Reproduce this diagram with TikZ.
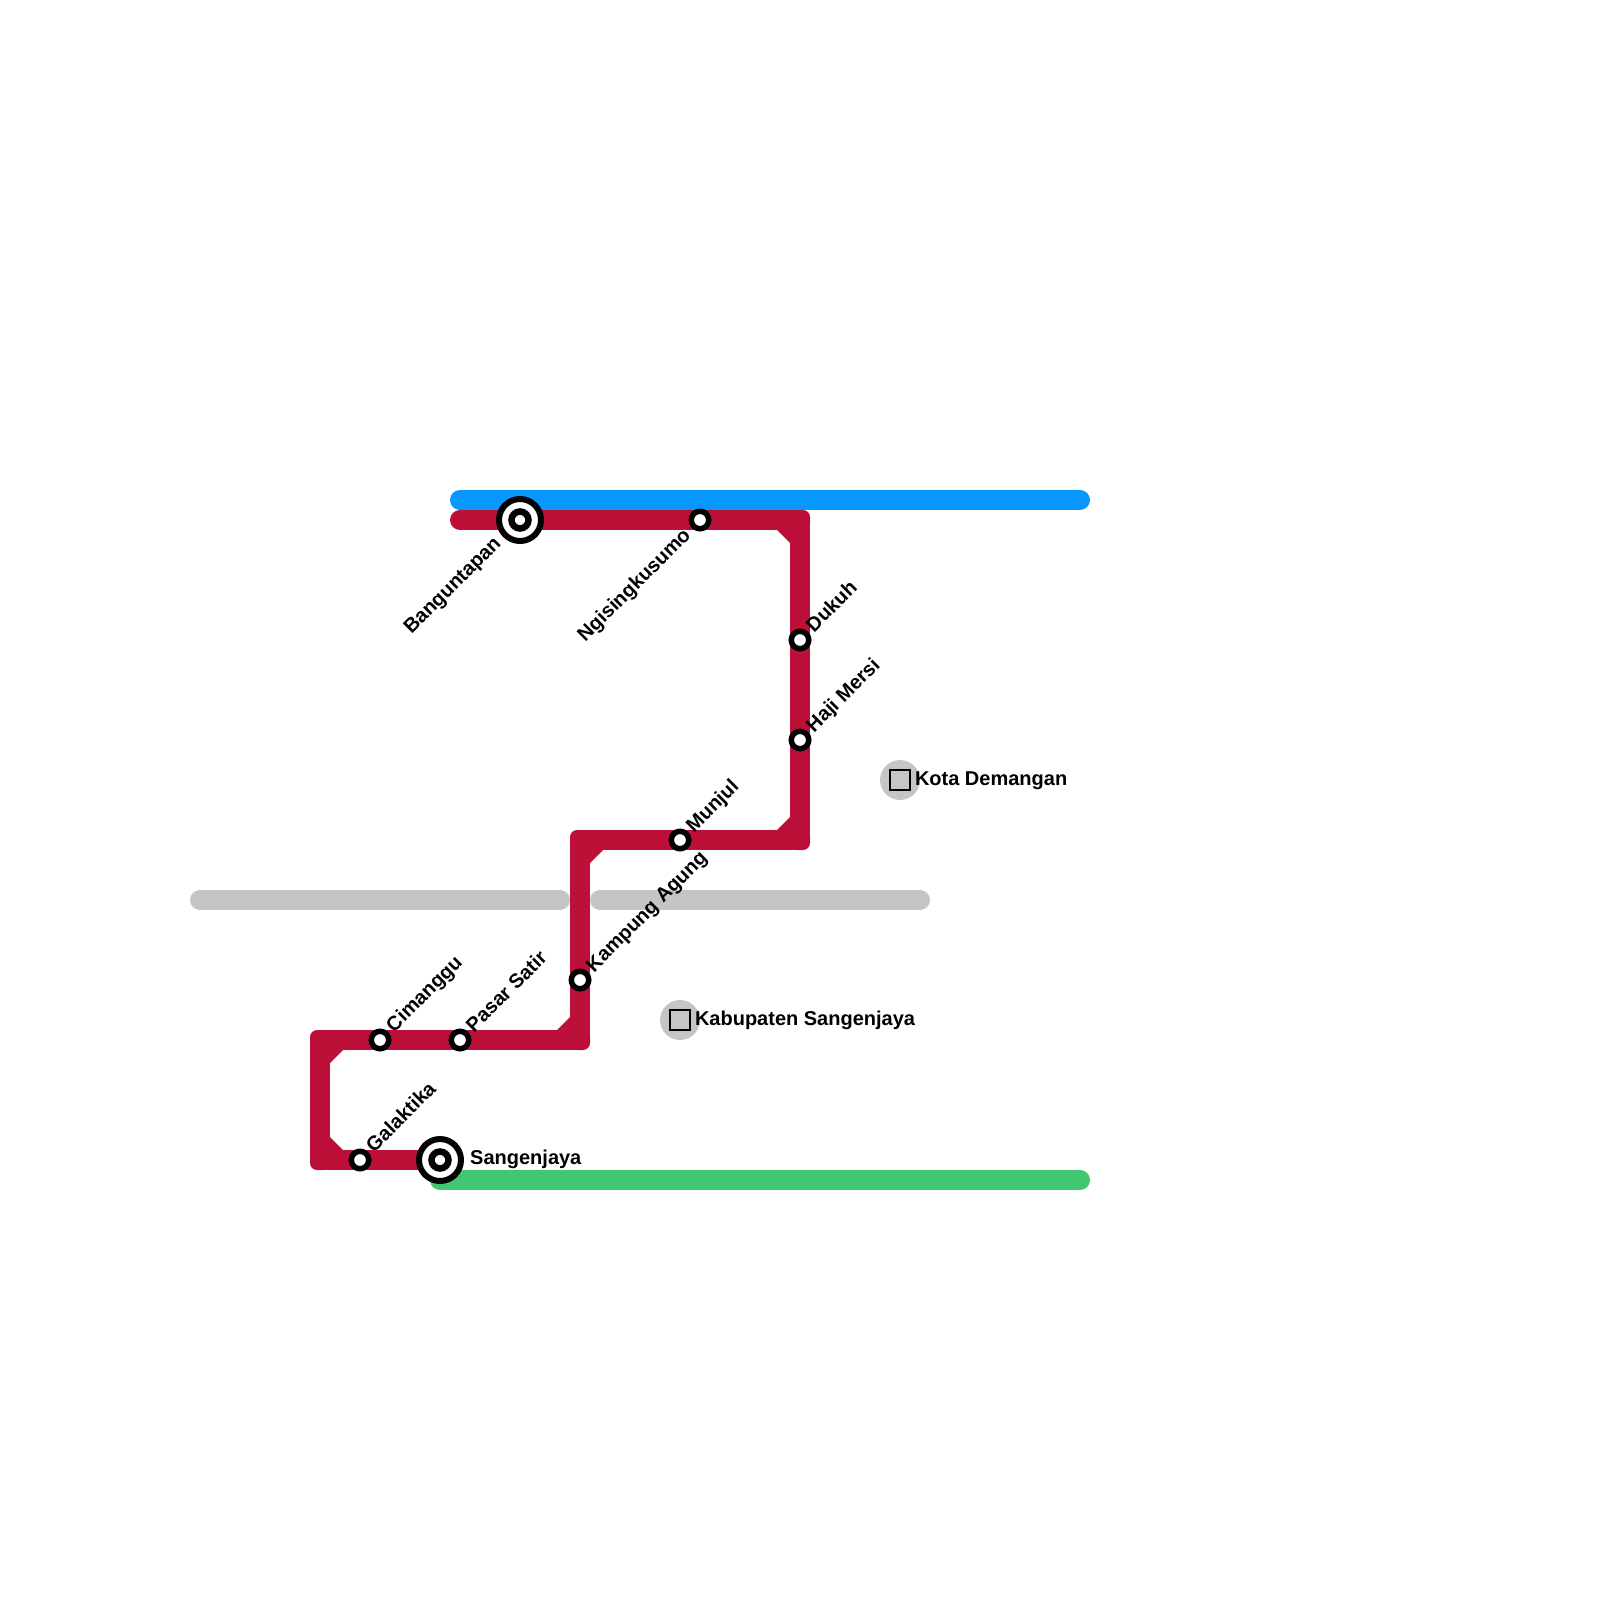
\documentclass[tikz,border=0pt]{standalone}
\usepackage{fontspec}
\setmainfont{Liberation Sans}
\usetikzlibrary{backgrounds}
\definecolor{mapred}{RGB}{189,16,56}
\definecolor{mapblue}{RGB}{8,150,255}
\definecolor{mapgreen}{RGB}{65,199,111}
\definecolor{mapgrey}{RGB}{197,197,197}
\tikzset{
  track/.style={line width=20pt, line cap=round, line join=round},
  st/.style={circle, draw=black, fill=white, line width=5.5pt, minimum size=17.5pt, inner sep=0pt},
  ring/.style={circle, draw=black, fill=white, line width=6pt, minimum size=42pt, inner sep=0pt},
  hub/.style={st, line width=6.5pt, minimum size=17pt},
  cornerbox/.style={rectangle, fill=mapred, rounded corners=7pt, minimum size=20pt, inner sep=0pt},
  dist/.style={circle, fill=mapgrey, minimum size=40pt, inner sep=0pt},
  distsq/.style={rectangle, draw=black, fill=mapgrey, line width=2pt, minimum size=20pt, inner sep=0pt},
  lab/.style={font=\fontsize{20}{24}\selectfont\bfseries, inner sep=0pt, text=black},
  labne/.style={lab, rotate=45, anchor=base west},
  labsw/.style={lab, rotate=45, anchor=base east},
  labe/.style={lab, anchor=base west}
}
\begin{document}
\begin{tikzpicture}[x=20pt, y=-20pt]
  \useasboundingbox (0,0) rectangle (80,80);
  \coordinate (redstart) at (23,26);
  \coordinate (bluestart) at (23,25);
  \coordinate (blueend) at (54,25);
  \coordinate (greenstart) at (22,59);
  \coordinate (greenend) at (54,59);
  \coordinate (greyastart) at (10,45);
  \coordinate (greyaend) at (28,45);
  \coordinate (greybstart) at (30,45);
  \coordinate (greybend) at (46,45);
  \node[cornerbox] (b1) at (40,26) {};
  \node[cornerbox] (b2) at (40,42) {};
  \node[cornerbox] (b3) at (29,42) {};
  \node[cornerbox] (b4) at (29,52) {};
  \node[cornerbox] (b5) at (16,52) {};
  \node[cornerbox] (b6) at (16,58) {};
  \foreach \n/\sx/\sy in {b1/-1/1, b2/-1/-1, b3/1/1, b4/-1/-1, b5/1/1, b6/1/-1}
    \fill[mapred] ([shift={(\sx*0.5,\sy*0.5)}]\n.center) -- ++(\sx*0.65,0) -- ++(-\sx*0.65,\sy*0.65) -- cycle;
  \node[ring] (bangring) at (26,26) {};
  \node[hub] (bang) at (26,26) {};
  \node[st] (ngis) at (35,26) {};
  \node[st] (dukuh) at (40,32) {};
  \node[st] (haji) at (40,37) {};
  \node[st] (munjul) at (34,42) {};
  \node[st] (kampung) at (29,49) {};
  \node[st] (pasar) at (23,52) {};
  \node[st] (ciman) at (19,52) {};
  \node[st] (galak) at (18,58) {};
  \node[ring] (sangring) at (22,58) {};
  \node[hub] (sang) at (22,58) {};
  \node[dist] (kotabg) at (45,39) {};
  \node[distsq] (kota) at (45,39) {};
  \node[dist] (kabbg) at (34,51) {};
  \node[distsq] (kab) at (34,51) {};
  \begin{scope}[on background layer]
    \draw[track, mapgrey] (greyastart) -- (greyaend);
    \draw[track, mapgrey] (greybstart) -- (greybend);
    \draw[track, mapblue] (bluestart) -- (blueend);
    \draw[track, mapgreen] (greenstart) -- (greenend);
    \draw[track, mapred] (redstart) -- (bang.center) -- (ngis.center) -- (b1.center)
      -- (dukuh.center) -- (haji.center) -- (b2.center) -- (munjul.center) -- (b3.center)
      -- (kampung.center) -- (b4.center) -- (pasar.center) -- (ciman.center) -- (b5.center)
      -- (b6.center) -- (galak.center) -- (sang.center);
  \end{scope}
  \node[labsw] (lbang) at ([shift={(-0.9,1.22)}]bang.center) {Banguntapan};
  \node[labsw] (lngis) at ([shift={(-0.42,0.82)}]ngis.center) {Ngisingkusumo};
  \node[labne] (ldukuh) at ([shift={(0.7,-0.34)}]dukuh.center) {Dukuh};
  \node[labne] (lhaji) at ([shift={(0.7,-0.34)}]haji.center) {Haji Mersi};
  \node[labne] (lmunjul) at ([shift={(0.7,-0.34)}]munjul.center) {Munjul};
  \node[labne] (lkampung) at ([shift={(0.7,-0.34)}]kampung.center) {Kampung Agung};
  \node[labne] (lpasar) at ([shift={(0.7,-0.34)}]pasar.center) {Pasar Satir};
  \node[labne] (lciman) at ([shift={(0.7,-0.34)}]ciman.center) {Cimanggu};
  \node[labne] (lgalak) at ([shift={(0.7,-0.34)}]galak.center) {Galaktika};
  \node[labe] (lsang) at ([shift={(1.5,0.22)}]sang.center) {Sangenjaya};
  \node[labe] (lkota) at ([shift={(0.74,0.25)}]kota.center) {Kota Demangan};
  \node[labe] (lkab) at ([shift={(0.74,0.25)}]kab.center) {Kabupaten Sangenjaya};
\end{tikzpicture}
\end{document}
